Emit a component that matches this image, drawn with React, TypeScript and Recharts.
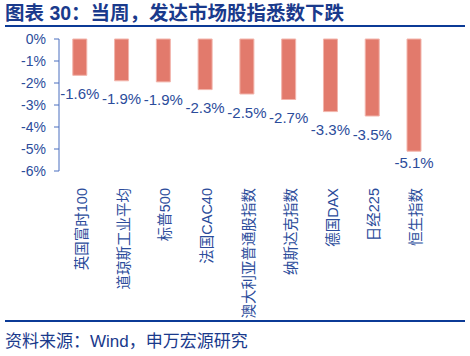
import React from 'react';
import { BarChart, Bar, XAxis, YAxis, LabelList } from 'recharts';

const indices = ['英国富时100', '道琼斯工业平均', '标普500', '法国CAC40', '澳大利亚普通股指数', '纳斯达克指数', '德国DAX', '日经225', '恒生指数'];
const weeklyChange = [-1.65, -1.9, -1.95, -2.3, -2.5, -2.75, -3.3, -3.5, -5.1];
const labelText = ['-1.6%', '-1.9%', '-1.9%', '-2.3%', '-2.5%', '-2.7%', '-3.3%', '-3.5%', '-5.1%'];
const yTicks = [-6, -5, -4, -3, -2, -1, 0];
const boundaryTicks = [0, 1, 2, 3, 4, 5, 6, 7, 8, 9];

const data = indices.map((name, i) => ({ name, value: weeklyChange[i], label: labelText[i] }));

const FONT = '"Liberation Sans", Arial, "Noto Sans CJK SC", sans-serif';
const BLUE = '#2B4C9B';
const NAVY = '#0B3A96';

const RotatedTick = (props: any) => {
    const { x, y, payload } = props;
    const ty = y + 9;
    return (
        <text
            x={x + 2}
            y={ty}
            transform={`rotate(-90, ${x + 2}, ${ty})`}
            textAnchor="end"
            dominantBaseline="central"
            fill={BLUE}
            fontSize={14.5}
            fontFamily={FONT}
        >
            {payload.value}
        </text>
    );
};

const ValueLabel = (props: any) => {
    const { x, y, width, height, index } = props;
    const bottom = Math.max(y, y + height);
    const cy = Math.min(bottom + 18, 162);
    return (
        <text x={x + width / 2} y={cy} textAnchor="middle" dominantBaseline="central" fill={BLUE} fontSize={15} fontFamily={FONT}>
            {labelText[index]}
        </text>
    );
};

export default function App() {
    return (
        <div style={{ position: 'absolute', left: 0, top: 0, width: 470, height: 356, background: '#fff', fontFamily: FONT }}>
            <div style={{ position: 'absolute', left: 0, top: 0 }}>
                <BarChart width={470} height={356} data={data} margin={{ top: 39, right: 35, bottom: 35, left: 0 }} barCategoryGap="33%">
                    <XAxis
                        dataKey="name"
                        xAxisId="cat"
                        interval={0}
                        axisLine={false}
                        tickLine={false}
                        height={150}
                        tick={<RotatedTick />}
                    />
                    <XAxis
                        xAxisId="edge"
                        type="number"
                        orientation="top"
                        domain={[0, 9]}
                        ticks={boundaryTicks}
                        height={0}
                        mirror
                        tick={false}
                        tickSize={5}
                        axisLine={{ stroke: '#A9C0E8', strokeWidth: 2 }}
                        tickLine={{ stroke: '#4A6FBF' }}
                    />
                    <YAxis
                        domain={[-6, 0]}
                        ticks={yTicks}
                        width={59}
                        tickSize={5}
                        tickMargin={8}
                        tickFormatter={(v: number) => `${v}%`}
                        tick={{ fill: BLUE, fontSize: 14, fontFamily: FONT }}
                        axisLine={{ stroke: '#4A6FBF' }}
                        tickLine={{ stroke: '#4A6FBF' }}
                    />
                    <Bar dataKey="value" xAxisId="cat" fill="#E27A6C" stroke="#F2B5AC" strokeWidth={1} isAnimationActive={false}>
                        <LabelList dataKey="label" content={<ValueLabel />} />
                    </Bar>
                </BarChart>
            </div>
            <div style={{ position: 'absolute', left: 5, top: 3, fontSize: 19.5, lineHeight: '20px', fontWeight: 'bold', color: '#1A3A8C', whiteSpace: 'nowrap' }}>
                图表 30：当周，发达市场股指悉数下跌
            </div>
            <div style={{ position: 'absolute', left: 5, top: 25, width: 460, height: 2, background: NAVY }} />
            <div style={{ position: 'absolute', left: 5, top: 320, width: 460, height: 2, background: NAVY }} />
            <div style={{ position: 'absolute', left: 5, top: 333, fontSize: 17, lineHeight: '17px', color: '#1A3A8C', whiteSpace: 'nowrap' }}>
                资料来源：Wind，申万宏源研究
            </div>
        </div>
    );
}
